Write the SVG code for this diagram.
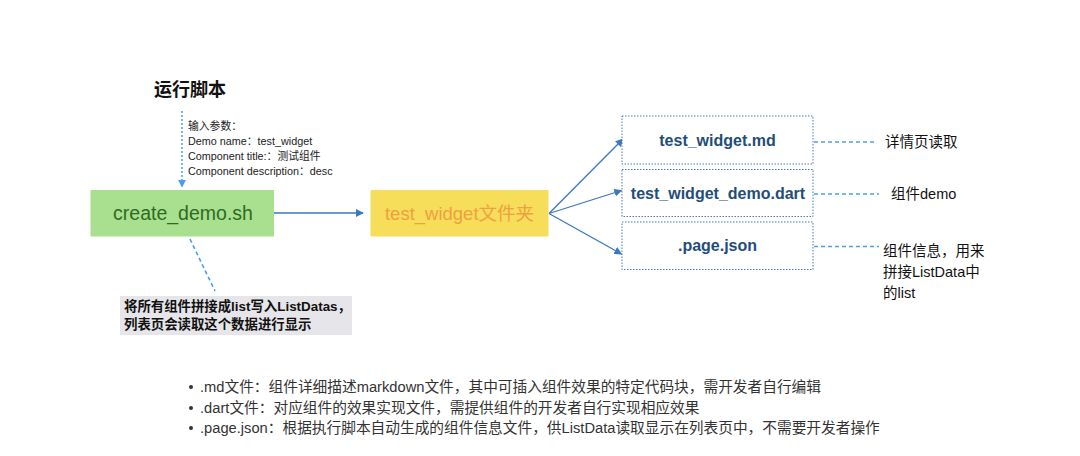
<svg xmlns="http://www.w3.org/2000/svg" width="1080" height="456" viewBox="0 0 1080 456">
<style>
.t{font-family:"Liberation Sans","Noto Sans CJK SC",sans-serif}
.small{font-size:10.8px;fill:#222}
.file{font-size:16px;font-weight:bold;fill:#1f4e79;text-anchor:middle}
.lbl{font-size:14.5px;fill:#111}
.fbox{fill:#fff;stroke:#4a7ab5;stroke-width:1;stroke-dasharray:1.5 1.5}
.solid{stroke:#3a78c0;stroke-width:1.3;fill:none}
.dash{stroke:#4a9eef;stroke-width:1.6;fill:none;stroke-dasharray:4 3}
.dot{stroke:#4a9eef;stroke-width:1.5;fill:none;stroke-dasharray:2 2}
.bul{font-size:14.7px;fill:#333}
</style>
<defs>
<marker id="ah" viewBox="0 0 10 10" refX="9" refY="5" markerWidth="8" markerHeight="8" markerUnits="userSpaceOnUse" orient="auto"><path d="M0,0 L10,5 L0,10 z" fill="#3a78c0"/></marker>
<marker id="ahb" viewBox="0 0 10 10" refX="9" refY="5" markerWidth="8" markerHeight="8" markerUnits="userSpaceOnUse" orient="auto"><path d="M0,0 L10,5 L0,10 z" fill="#4a9eef"/></marker>
</defs>
<rect width="1080" height="456" fill="#fff"/>
<g id="title"><text class="t" x="154" y="96" font-size="18" font-weight="bold" fill="#111">运行脚本</text></g>
<g id="params" class="t small">
<text x="188" y="130">输入参数：</text>
<text x="188" y="145">Demo name：test_widget</text>
<text x="188" y="160">Component title:：测试组件</text>
<text x="188" y="175">Component description：desc</text>
</g>
<g id="connectors">
<line class="dot" x1="182" y1="111" x2="182" y2="187" marker-end="url(#ahb)"/>
<line class="solid" x1="273" y1="213" x2="363" y2="213" marker-end="url(#ah)"/>
<line class="solid" x1="549" y1="213.5" x2="623" y2="139" marker-end="url(#ah)"/>
<line class="solid" x1="549" y1="213.5" x2="621.5" y2="190.5" marker-end="url(#ah)"/>
<line class="solid" x1="549" y1="213.5" x2="621.5" y2="254" marker-end="url(#ah)"/>
<line class="dash" x1="814" y1="142" x2="877" y2="142"/>
<line class="dash" x1="814" y1="194" x2="879" y2="194"/>
<line class="dash" x1="814" y1="246.5" x2="879" y2="246.5"/>
<line class="dash" x1="190" y1="239" x2="215" y2="291"/>
</g>
<g id="create_demo">
<rect x="90.5" y="190" width="183.5" height="46.5" fill="#a8e08f"/>
<text class="t" x="183" y="220" font-size="19.5" fill="#2f6b1f" text-anchor="middle">create_demo.sh</text>
</g>
<g id="folder">
<rect x="370.5" y="190" width="178" height="46.5" fill="#f6dd5a"/>
<text class="t" x="459.5" y="220" font-size="18.5" fill="#f0a040" text-anchor="middle">test_widget文件夹</text>
</g>
<g id="md">
<rect class="fbox" x="622" y="116" width="191" height="48"/>
<text class="t file" x="717.5" y="146">test_widget.md</text>
</g>
<g id="dart">
<rect class="fbox" x="622" y="169.5" width="191" height="47"/>
<text class="t file" x="718" y="199">test_widget_demo.dart</text>
</g>
<g id="json">
<rect class="fbox" x="622" y="222" width="191" height="47.5"/>
<text class="t file" x="717.5" y="251">.page.json</text>
</g>
<g id="label_md"><text class="t lbl" x="885" y="147">详情页读取</text></g>
<g id="label_dart"><text class="t lbl" x="891" y="199">组件demo</text></g>
<g id="label_json" class="t lbl">
<text x="883" y="256">组件信息，用来</text>
<text x="883" y="277">拼接ListData中</text>
<text x="883" y="298">的list</text>
</g>
<g id="note">
<rect x="120" y="296" width="232" height="39" fill="#e6e6ea"/>
<text class="t" x="124" y="311" font-size="13.4" font-weight="bold" fill="#111">将所有组件拼接成list写入ListDatas，</text>
<text class="t" x="124" y="329" font-size="13.4" font-weight="bold" fill="#111">列表页会读取这个数据进行显示</text>
</g>
<g id="bullets" class="t bul">
<circle cx="191" cy="387" r="2" fill="#333"/>
<text x="200" y="392">.md文件：组件详细描述markdown文件，其中可插入组件效果的特定代码块，需开发者自行编辑</text>
<circle cx="191" cy="408" r="2" fill="#333"/>
<text x="200" y="413">.dart文件：对应组件的效果实现文件，需提供组件的开发者自行实现相应效果</text>
<circle cx="191" cy="428" r="2" fill="#333"/>
<text x="200" y="433">.page.json：根据执行脚本自动生成的组件信息文件，供ListData读取显示在列表页中，不需要开发者操作</text>
</g>
</svg>
